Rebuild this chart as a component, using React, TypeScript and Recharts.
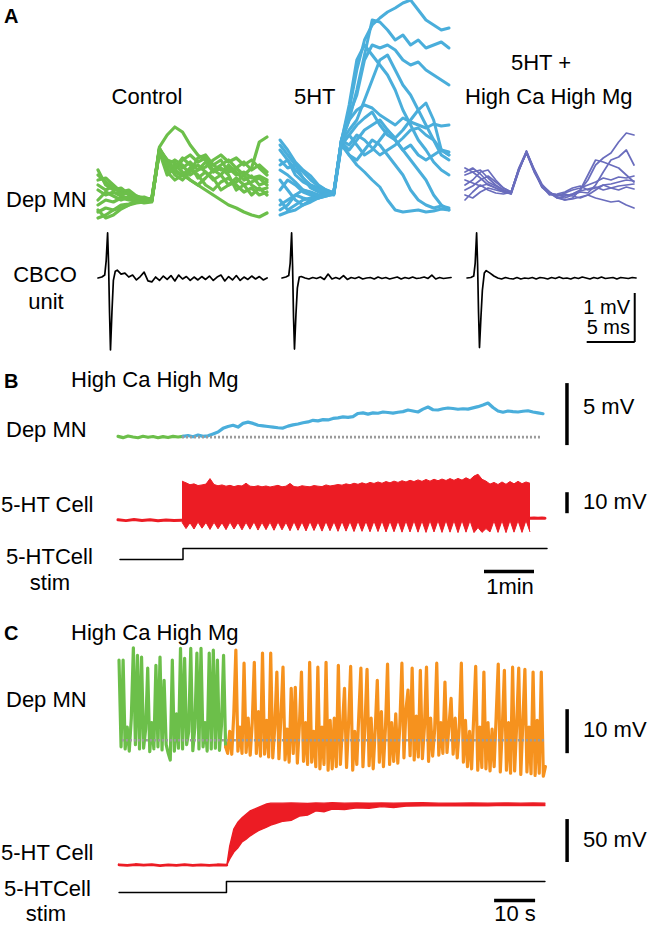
import React from 'react';
import { ComposedChart, Line, Area, XAxis, YAxis, ReferenceLine } from 'recharts';

// ---------------- Panel A : Dep MN sweeps (mV, relative to the pre-EPSP trough), one sample / 0.8 ms ----------------
const sweepStepMs = 0.8;

const controlSweeps: number[][] = [
  [-0.5, 0, -0.2, 0.2, 0, -0.1, 0.1, -0.1, 5, 4, 3, 2.5, 2, 1.5, 1, 0.5, 0, -0.5, -0.8, -1.2, -1.5, -1.7, -1.3],
  [2.5, 1.8, 1.2, 1, 0.5, 0.2, 0.1, 0, 5.3, 6.5, 7.3, 6.8, 5.5, 4.5, 4, 3.5, 3, 3.2, 2.5, 2.8, 2.2, 2.4, 2],
  [1, 0.5, 0.8, 0.4, 0.2, 0.3, 0, 0.1, 5.1, 3.5, 3, 4, 4.5, 3.8, 4.2, 3, 2.5, 3.5, 2.8, 2, 2.4, 1.5, 1.8],
  [-1.2, -0.8, -1, -0.5, -0.4, -0.2, -0.1, 0, 5, 3, 2.8, 2.4, 3, 3.5, 2.8, 2, 2.5, 1.5, 1.8, 2.5, 3.2, 5.8, 6.3],
  [2, 2.2, 1.5, 0.8, 1, 0.4, 0.2, -0.1, 5.2, 3.8, 2.5, 2, 2.8, 4.2, 4.5, 3.5, 4, 2.8, 3.2, 3.8, 3, 3.5, 2.8],
  [-1.8, -1.5, -1, -0.8, -0.5, -0.3, -0.2, 0, 4.9, 3.2, 3.5, 2.8, 2, 1.5, 2.2, 3, 3.5, 4, 3.2, 2.5, 1.5, 1, 1.2],
  [3, 1.5, 1, 1.2, 0.6, 0.4, 0, 0.2, 5, 2.8, 2, 2.5, 3.2, 2.5, 1.5, 1, 1.8, 2.2, 1.5, 0.8, 1.2, 0.5, 0.8],
  [0, 0.8, 0.4, 0, 0.3, 0.1, 0.2, -0.1, 5.1, 4, 3.7, 3.2, 3.8, 3, 3.3, 4, 4.5, 3.8, 4.2, 3.5, 4, 3.2, 2.5],
  [1.5, 1, 1.4, 0.5, 0.8, 0.2, 0.3, 0, 4.8, 2.5, 3.2, 4.2, 3.5, 2.2, 2.8, 2.2, 1, 1.5, 2.2, 1.5, 1.8, 2.2, 1.5],
  [-1, -1.8, -1.5, -0.9, -0.5, -0.1, -0.3, -0.2, 5, 3.5, 4, 3.5, 2.5, 3, 3.8, 2.8, 3.2, 2.5, 1, 1.5, 0.5, 1.2, 0.5],
];

const serotoninSweeps: number[][] = [
  [5, 4, 3, 2.2, 1.5, 1.2, 0.8, 0.6, 6, 9, 13, 16, 17.5, 18.2, 18.8, 19.2, 19.7, 20, 19, 18, 17.5, 17, 17.2],
  [5.5, 4.5, 3.5, 2.8, 2, 1.4, 1, 0.7, 5.8, 8, 11, 14.5, 18, 17.8, 17, 16, 16.5, 15.5, 16, 15.2, 15.5, 15.8, 15.2],
  [0, -1, -0.5, 0, 0.2, 0.4, 0.6, 0.7, 6, 8.5, 10.5, 14, 15.5, 15.2, 15.5, 15, 14, 13.5, 13.8, 13, 12.5, 12, 11.5],
  [-1.5, -1.2, -1, -0.5, 0, 0.2, 0.5, 0.6, 5.9, 9.5, 14, 15.5, 14.5, 13.5, 12.5, 11, 9, 7.5, 6, 5, 3.8, 3, 2.5],
  [3, 2.5, 1.8, 1, 0.8, 0.5, 0.7, 0.8, 6, 8, 9, 9.5, 9.2, 8.5, 8, 7.5, 8.2, 7.8, 7.5, 7.2, 7.6, 7.4, 7.5],
  [4, 3.2, 3.5, 2.2, 1.2, 0.8, 0.6, 0.5, 5.5, 6.5, 7.5, 8.2, 8.8, 7.5, 6.5, 6, 5, 4, 3, 2, 0.5, -0.5, -1],
  [1, 2, 1.5, 0.8, 0.5, 0.2, 0.4, 0.6, 5.8, 5, 6, 7, 7.5, 8, 7, 6.2, 7, 8, 9, 9.7, 8, 5, 4.5],
  [6, 5, 3.8, 3, 2.4, 1.5, 1, 0.7, 5.5, 4.5, 4, 5, 6, 5.5, 4.5, 3.5, 2.5, 1, 0, -0.5, -0.8, -0.6, -0.8],
  [-0.5, 0, 0.5, 0.2, 0, 0.3, 0.5, 0.7, 6, 5.5, 6.5, 6, 5.2, 4.5, 5, 5.5, 6.2, 7, 7.2, 6.5, 6, 5, 4.5],
  [2, 1, 0, -0.5, -0.2, 0.2, 0.4, 0.6, 5.7, 4.5, 3.5, 2.8, 2, 1.3, 0, -1, -1.2, -1.1, -1, -1.2, -1.1, -0.9, -1],
  [3.5, 4, 2.5, 1.8, 1.4, 1, 0.8, 0.7, 5.9, 7, 8, 10, 12, 14, 14.5, 13, 11.5, 10.5, 9, 7.5, 6, 4.5, 4],
  [-1, -0.5, 0.5, 1, 0.7, 0.4, 0.6, 0.8, 5.6, 6.5, 5.5, 4.5, 5, 6, 7, 6, 5, 5.5, 4.5, 4, 4.5, 5, 4.8],
];

const highCaMgSweeps: number[][] = [
  [2.5, 2.8, 3, 2.2, 1.5, 1, 0.7, 3, 4.8, 3, 1.4, 0.7, 0.5, 0.4, 0.6, 1, 2, 3.5, 4.2, 4.7, 5.8, 6.7, 6.5],
  [1.5, 2, 2.8, 3, 2, 1.2, 0.8, 3.1, 4.7, 2.9, 1.5, 0.8, 0.3, 0.2, 0.5, 0.8, 0.7, 1.5, 2.8, 4, 4.3, 5, 3.5],
  [0.5, 0.2, 0.8, 1.2, 1, 0.8, 0.6, 2.9, 4.8, 3, 1.3, 0.6, 0.4, 0.7, 1, 1.2, 1.5, 1.8, 2.2, 2, 2.3, 2.2, 2.4],
  [3.2, 2.8, 2.2, 1.5, 1.2, 0.9, 0.7, 3.2, 4.9, 3.1, 1.6, 0.7, 0.2, 0, 0.1, 0.3, 0.5, 0.2, 0, -0.2, -0.1, -0.5, -0.8],
  [0, 0.8, 1.5, 1, 0.7, 0.6, 0.8, 3, 4.7, 2.8, 1.4, 0.5, 0.6, 0.8, 1.2, 1.4, 1, 1.2, 1.5, 1.6, 1.8, 2, 1.9],
  [2, 1.7, 1.4, 1.6, 1.2, 0.8, 0.7, 3.1, 4.8, 3, 1.5, 0.8, 0.2, 0.4, 0.6, 0.9, 1.1, 1.3, 1, 1.2, 1.4, 1.5, 1.6],
  [2.8, 3.2, 2.6, 1.8, 1.4, 1, 0.6, 2.9, 4.9, 2.9, 1.3, 0.7, 0.3, 0, 0.2, 1, 2.5, 4, 3.8, 3.5, 3.2, 2.5, 1.8],
  [1, 1.4, 2, 2.4, 1.8, 1.2, 0.8, 3, 4.7, 3, 1.4, 0.7, 0.5, 0.6, 0.4, 0.2, 0.5, 1, 1.5, 1.2, 1, 1.3, 1.1],
];

// ---------------- Panel A : CBCO unit (mV) ----------------
const cbcoTimesMs = [0, 0.4, 0.7, 0.85, 1.0, 1.1, 1.2, 1.3, 1.45, 1.6, 1.8, 2.0,
  2.4, 2.8, 3.2, 3.6, 4.0, 4.4, 4.8, 5.2, 5.6, 6.0, 6.4, 6.8, 7.2, 7.6, 8.0, 8.4, 8.8, 9.2, 9.6, 10.0,
  10.4, 10.8, 11.2, 11.6, 12.0, 12.4, 12.8, 13.2, 13.6, 14.0, 14.4, 14.8, 15.2, 15.6, 16.0, 16.4, 16.8, 17.2, 17.6];
const cbcoControl = [0, 0.02, 0.06, 0.35, 0.92, 0.3, -0.7, -1.47, -0.7, -0.05, 0.14, 0.16,
  0.08, 0.1, 0.02, 0.06, -0.04, 0.03, 0.12, -0.06, -0.08, 0.02, -0.05, 0.04, -0.03, 0.05, -0.06, 0.06, -0.02, 0.03, -0.05, 0.02,
  -0.04, 0.03, -0.03, 0.04, -0.05, 0.02, 0.06, -0.06, 0.03, -0.04, 0.05, -0.05, 0.02, -0.03, 0.04, -0.02, 0.03, -0.04, 0.0];
const cbco5HT = [0, 0.02, 0.05, 0.3, 0.92, 0.25, -0.8, -1.45, -0.75, -0.2, 0.02, 0.03,
  0.0, -0.02, 0.01, -0.01, 0.02, -0.03, 0.08, -0.02, 0.01, -0.02, 0.05, -0.03, 0.01, -0.01, 0.02, -0.02, 0.0, 0.01, -0.02, 0.02,
  -0.01, 0.01, -0.02, 0.0, 0.02, -0.02, 0.01, -0.01, 0.02, -0.01, 0.0, 0.02, -0.01, 0.06, -0.02, 0.01, -0.01, 0.0, 0.01];
const cbcoHighCaMg = [0, 0.01, 0.04, 0.3, 0.92, 0.3, -0.7, -1.42, -0.8, -0.25, 0.1, 0.15,
  0.1, 0.04, 0.0, -0.02, 0.01, -0.01, -0.02, 0.01, -0.02, 0.0, -0.01, 0.01, -0.02, 0.01, 0.0, -0.02, 0.01, -0.01, 0.02, -0.01,
  0.0, -0.02, 0.01, -0.01, 0.02, 0.0, -0.02, 0.01, -0.01, 0.02, -0.01, 0.0, 0.01, -0.02, 0.01, 0.0, -0.01, 0.01, 0.0];

// ---------------- Panel B (time in min) ----------------
const depBStepMin = 0.1;
const depBControl = [0.05, -0.05, 0.08, 0.0, -0.06, 0.06, -0.02, 0.04, -0.06, 0.03, -0.04, 0.05, 0.0, 0.05];
const depB5HT = [0.05,
  0.12, 0.02, 0.16, 0.05, 0.1, 0.25, 0.4, 0.7, 0.85, 0.95,
  0.8, 1.1, 1.2, 1.1, 0.95, 0.9, 0.85, 0.8, 0.75, 0.72,
  0.88, 0.98, 1.05, 1.15, 1.22, 1.35, 1.3, 1.4, 1.38, 1.5,
  1.55, 1.62, 1.58, 1.65, 1.9, 1.95, 1.85, 1.95, 1.92, 2.02,
  1.98, 1.93, 2.0, 2.05, 2.18, 2.1, 2.02, 2.25, 2.42, 2.2,
  2.18, 2.28, 2.34, 2.3, 2.24, 2.28, 2.25, 2.35, 2.45, 2.58,
  2.74, 2.38, 2.1, 2.0, 2.1, 2.05, 2.02, 2.08, 2.12, 2.02,
  1.95, 1.88];

const cellBRestTimes = [0, 0.16, 0.32, 0.48, 0.64, 0.8, 0.96, 1.12, 1.28];
const cellBRest = [0.2, -0.2, 0.3, -0.1, 0.2, -0.3, 0.1, -0.2, 0];
const cellBBurstStart = 1.28;
const cellBBurstStep = 0.08;
const cellBBurstLow = [
  -1, -4.0, -1.2, -4.2, -0.9, -3.8, -1.1, -4.4, -1, -4.1, -1.2, -4.5, -0.9, -4.2, -1.1, -4.6, -1, -4.3, -0.8, -4.7,
  -1, -4.5, -0.9, -4.8, -0.8, -4.6, -1, -5, -0.7, -4.8, -0.8, -5.1, -0.6, -4.9, -0.8, -5.2, -0.6, -5, -0.7, -5.3,
  -0.5, -5.2, -0.6, -5.4, -0.4, -5.3, -0.5, -5.5, -0.4, -5.4, -0.3, -5.6, -0.4, -5.5, -0.3, -5.7, -0.3, -5.6, -0.2, -5.7,
  -0.3, -5.8, -0.2, -5.6, -0.2, -5.8, -0.1, -5.7, -0.2, -5.9, -0.1, -5.7, -0.2, -5.9, -3.5, -5.8, -4, -5.6, -0.3, -5.8,
  -0.2, -5.9, -0.1, -5.7, -0.2, -5.8, -0.1, -5.6];
const cellBBurstHigh = [
  18.6, 17.8, 16.9, 17.3, 16.5, 16.8, 17.2, 19.8, 17.0, 16.4, 16.8, 16.2, 16.6, 16.0, 16.5, 16.3, 17.6, 16.2, 16.0, 16.4,
  15.9, 16.3, 15.8, 16.2, 16.6, 15.9, 16.2, 17.5, 16.0, 15.8, 16.4, 16.1, 15.9, 16.5, 16.2, 16.0, 16.8, 16.3, 16.6, 17.0,
  16.7, 17.3, 16.9, 17.6, 17.1, 17.8, 17.2, 18.0, 17.5, 18.2, 17.6, 18.4, 17.8, 18.6, 18.0, 18.8, 18.2, 19.0, 18.4, 19.2,
  18.5, 19.4, 18.6, 19.5, 18.8, 19.6, 18.9, 19.8, 19.0, 19.9, 19.1, 20.2, 19.3, 21.0, 21.9, 19.5, 18.6, 17.2, 18.0, 17.0,
  18.2, 17.1, 18.4, 17.3, 18.5, 17.4, 18.2, 17.6];
const cellBAfterTimes = [8.24, 8.32, 8.4, 8.48, 8.54];
const cellBAfter = [0.9, 1.1, 0.9, 1.0, 0.95];

const stimBTimes = [0.04, 1.3, 8.58];
const stimBLevels = [0, 1, 1];

// ---------------- Panel C (time in s) ----------------
const depCStepS = 0.5;
const depCControl = [
  18.2, -1.5, 18.2, -2.0, 3.0, -2.5, 5.0, 21.0, -1.0, 19.3,
  -2.0, 18.9, -1.8, 2.5, 16.4, -2.6, 4.0, -2.0, 17.0, -1.5,
  18.9, -2.2, 13.6, -1.0, -3.0, -4.5, 18.2, -2.5, 6.0, -1.8,
  20.9, -2.0, 18.6, -1.0, 2.0, 20.9, -2.4, 3.0, 19.8, -2.0,
  20.9, -1.5, 4.0, -2.5, 19.8, -2.0, 20.5, -1.8, 18.2, -2.3,
  3.5, 19.3, -1.5];
const depC5HT = [
  -1.5, -3.0, 2.0, -3.2, 6.0, 20.5, -2.5, 3.0, -3.0, 17.5,
  -2.8, 5.0, -3.4, 4.0, 17.7, -3.0, 6.5, -3.6, 19.8, -3.2,
  4.5, -3.8, 19.8, -4.0, 3.0, 15.5, -4.2, 5.5, 16.6, -4.5,
  2.5, -5.0, 11.8, -3.0, 12.0, -5.2, 3.5, 15.5, -4.8, 4.0,
  -5.5, 17.7, -5.0, 2.0, -6.0, 16.6, -6.5, 3.0, -5.5, 17.7,
  -6.8, 4.5, -6.5, 5.0, -6.0, 17.0, -5.5, 3.0, 11.8, -6.2,
  4.0, 16.8, -6.8, 2.0, -5.5, 6.0, 16.4, -6.0, 3.5, 16.1,
  -5.8, 5.0, -6.5, 2.5, 13.6, -5.0, 6.5, -6.0, 3.0, 17.3,
  -5.5, 4.0, -4.8, 6.0, -5.2, 3.5, 17.5, -4.0, 7.0, 11.4,
  -3.5, 16.4, -4.5, 5.5, -3.8, 15.9, -4.2, 3.0, 16.6, -4.8,
  5.0, -3.6, 2.5, 17.5, -3.4, 4.0, -3.0, 13.2, -2.8, 3.5,
  9.5, -3.2, 5.0, -4.0, 3.0, 17.5, -5.0, 4.5, -6.0, 2.0,
  -6.5, 5.0, 16.8, -6.8, 3.0, -6.2, 15.5, -6.5, 4.0, -7.0,
  2.5, -6.0, 5.5, 17.3, -7.2, 3.0, 15.9, -6.8, 4.0, -7.5,
  16.6, -7.0, 3.5, 16.4, -7.8, 4.0, 16.1, -7.2, 3.0, -7.6,
  15.5, -8.0, 4.5, -7.5, 15.5, -8.2, -6.0];

const cellCRestTimes = [0, 2, 4, 6, 8, 10, 12, 14, 16, 18, 20, 22, 24, 26.3];
const cellCRest = [0.3, -0.5, 0.6, -0.2, 0.4, -0.6, 0.2, -0.4, 0.5, -0.3, 0.2, -0.5, 0.3, 0];
const cellCBurstTimes = [26.3, 27, 28, 29, 30, 31, 32, 33, 34, 35, 36, 37, 38, 40, 42, 44, 46, 48, 50, 52,
  55, 58, 61, 64, 67, 70, 74, 78, 82, 86, 90, 94, 98, 101, 104];
const cellCBurstHigh = [0, 22, 42, 50, 55, 59, 63, 65, 67, 69, 71, 72, 72, 72, 72.3, 72, 71.8, 72.2, 72, 72.4,
  72, 72.2, 71.9, 72.3, 72, 72.1, 72.4, 72, 71.9, 72.3, 72, 72.2, 72, 72.3, 72];
const cellCBurstLow = [0, 7, 15, 20, 27, 30, 34, 37, 40, 42, 44, 46.5, 48, 51, 52, 57, 58, 63, 62, 65,
  64.5, 66.5, 66, 68, 67, 68.5, 68.8, 69.2, 68.8, 69.3, 69, 69.4, 69.1, 69.5, 69.2];

const stimCTimes = [0, 26.2, 103.9];
const stimCLevels = [0, 1, 1];

// ---------------- build tables ----------------
const sweepRows = (sweeps: number[][]) =>
  sweeps[0].map((_, i) => {
    const r: any = { t: i * sweepStepMs };
    sweeps.forEach((s, k) => { r['s' + k] = s[i]; });
    return r;
  });
const controlRows = sweepRows(controlSweeps);
const serotoninRows = sweepRows(serotoninSweeps);
const highCaMgRows = sweepRows(highCaMgSweeps);
const cbcoRows = (vals: number[]) => cbcoTimesMs.map((t, i) => ({ t, v: vals[i] }));

const depBRows = Array.from({ length: depBControl.length + depB5HT.length - 1 }, (_, i) => ({
  t: i * depBStepMin,
  c: i < depBControl.length ? depBControl[i] : undefined,
  s: i >= depBControl.length - 1 ? depB5HT[i - depBControl.length + 1] : undefined,
}));
const cellBRows: any[] = [
  ...cellBRestTimes.map((t, i) => ({ t, rest: cellBRest[i] })),
  ...cellBBurstLow.map((lo, i) => ({ t: cellBBurstStart + i * cellBBurstStep, burst: [lo, cellBBurstHigh[i]] })),
  ...cellBAfterTimes.map((t, i) => ({ t, rest: cellBAfter[i] })),
];
const stimBRows = stimBTimes.map((t, i) => ({ t, v: stimBLevels[i] }));

const depCRows = Array.from({ length: depCControl.length + depC5HT.length - 1 }, (_, i) => ({
  t: i * depCStepS,
  c: i < depCControl.length ? depCControl[i] : undefined,
  s: i >= depCControl.length - 1 ? depC5HT[i - depCControl.length + 1] : undefined,
}));
const cellCRows: any[] = [
  ...cellCRestTimes.map((t, i) => ({ t, rest: cellCRest[i] })),
  ...cellCBurstTimes.map((t, i) => ({ t, burst: [cellCBurstLow[i], cellCBurstHigh[i]] })),
];
const stimCRows = stimCTimes.map((t, i) => ({ t, v: stimCLevels[i] }));

// ---------------- styling ----------------
const FONT = '"Liberation Sans", Arial, Helvetica, sans-serif';
const GREEN = '#6cbf4a';
const BLUE = '#4aaedb';
const PURPLE = '#6a6dbd';
const ORANGE = '#f6921e';
const RED = '#ec1c24';
const GRAY = '#9b9b9b';
const INK = '#000';
const PAD = 6;

type PlotProps = {
  left: number; top: number; width: number; height: number;
  x: [number, number]; y: [number, number]; data: any[]; children: React.ReactNode;
};
function Plot({ left, top, width, height, x, y, data, children }: PlotProps) {
  return (
    <div style={{ position: 'absolute', left: left - PAD, top: top - PAD }}>
      <ComposedChart width={width + 2 * PAD} height={height + 2 * PAD} data={data}
        margin={{ top: PAD, right: PAD, bottom: PAD, left: PAD }}>
        <XAxis dataKey="t" type="number" domain={x} hide />
        <YAxis type="number" domain={y} hide />
        {children}
      </ComposedChart>
    </div>
  );
}

const trace = (key: string, color: string, w: number, type: any = 'linear') => (
  <Line key={key} dataKey={key} stroke={color} strokeWidth={w} dot={false} activeDot={false}
    isAnimationActive={false} type={type} strokeLinejoin="round" strokeLinecap="round" />
);

function Label({ x, y, text, align = 'left', size = 22, bold = false }:
  { x: number; y: number; text: string; align?: 'left' | 'center' | 'right'; size?: number; bold?: boolean }) {
  const tx = align === 'left' ? '0' : align === 'center' ? '-50%' : '-100%';
  return (
    <div style={{
      position: 'absolute', left: x, top: y, transform: `translate(${tx}, -50%)`,
      fontSize: size, fontWeight: bold ? 700 : 400, lineHeight: 1, whiteSpace: 'nowrap', color: INK,
    }}>{text}</div>
  );
}

const bar = (p1: { x: number; y: number }, p2: { x: number; y: number }, w = 3.5) => (
  <ReferenceLine segment={[p1, p2]} stroke={INK} strokeWidth={w} ifOverflow="visible" />
);

export default function App() {
  const aX: [number, number] = [0, 17.6];
  const aY: [number, number] = [-2.5, 20];
  const cbX: [number, number] = [0, 17.8];
  const cbY: [number, number] = [-1.6, 1.0];
  return (
    <div style={{ position: 'absolute', left: 0, top: 0, width: 648, height: 927, background: '#fff', overflow: 'hidden', fontFamily: FONT }}>
      {/* ---------- A ---------- */}
      <Label x={4} y={16} text="A" size={20} bold />
      <Label x={147} y={97} text="Control" align="center" />
      <Label x={294} y={97} text="5HT" />
      <Label x={541} y={63} text="5HT +" align="center" />
      <Label x={465} y={97} text="High Ca High Mg" />
      <Label x={6} y={200} text="Dep MN" />
      <Label x={45} y={275} text="CBCO" align="center" />
      <Label x={46} y={302} text="unit" align="center" />
      <Label x={630} y={307} text="1 mV" align="right" size={20} />
      <Label x={630} y={327} text="5 ms" align="right" size={20} />

      <Plot left={98} top={0} width={169} height={225} x={aX} y={aY} data={controlRows}>
        {controlSweeps.map((_, k) => trace('s' + k, GREEN, 3.2))}
      </Plot>
      <Plot left={280} top={0} width={169} height={225} x={aX} y={aY} data={serotoninRows}>
        {serotoninSweeps.map((_, k) => trace('s' + k, BLUE, 3))}
      </Plot>
      <Plot left={465} top={0} width={169} height={225} x={aX} y={aY} data={highCaMgRows}>
        {highCaMgSweeps.map((_, k) => trace('s' + k, PURPLE, 1.7))}
      </Plot>

      <Plot left={98.4} top={229} width={171} height={127.4} x={cbX} y={cbY} data={cbcoRows(cbcoControl)}>
        {trace('v', INK, 1.7)}
      </Plot>
      <Plot left={282.4} top={229} width={171} height={127.4} x={cbX} y={cbY} data={cbcoRows(cbco5HT)}>
        {trace('v', INK, 1.7)}
      </Plot>
      <Plot left={467.4} top={229} width={171} height={127.4} x={cbX} y={cbY} data={cbcoRows(cbcoHighCaMg)}>
        {trace('v', INK, 1.7)}
        {bar({ x: 17.46, y: -1.306 }, { x: 17.46, y: -0.306 }, 2)}
        {bar({ x: 12.46, y: -1.306 }, { x: 17.46, y: -1.306 }, 2)}
      </Plot>

      {/* ---------- B ---------- */}
      <Label x={4} y={381} text="B" size={20} bold />
      <Label x={71} y={380} text="High Ca High Mg" />
      <Label x={6} y={430} text="Dep MN" />
      <Label x={583} y={407} text="5 mV" />
      <Label x={1} y={505} text="5-HT Cell" />
      <Label x={583} y={502} text="10 mV" />
      <Label x={6} y={557} text="5-HTCell" />
      <Label x={50} y={583} text="stim" align="center" />
      <Label x={510} y={587} text="1min" align="center" />

      <Plot left={118} top={380} width={452} height={70.06} x={[0, 9.04]} y={[-1.05, 4.6]} data={depBRows}>
        {trace('c', GREEN, 3.2)}
        {trace('s', BLUE, 3.2)}
        <ReferenceLine segment={[{ x: 1.28, y: 0 }, { x: 8.46, y: 0 }]} stroke={GRAY} strokeWidth={2.8} strokeDasharray="2 2" />
        {bar({ x: 8.98, y: -0.65 }, { x: 8.98, y: 4.35 })}
      </Plot>

      <Plot left={118} top={473.8} width={452} height={63} x={[0, 9.04]} y={[-8, 22]} data={cellBRows}>
        <Area dataKey="burst" stroke={RED} strokeWidth={1} fill={RED} fillOpacity={1} type="linear"
          dot={false} activeDot={false} isAnimationActive={false} />
        {trace('rest', RED, 3)}
        {bar({ x: 8.98, y: 3.33 }, { x: 8.98, y: 13.33 })}
      </Plot>

      <Plot left={118} top={542.5} width={452} height={33} x={[0, 9.04]} y={[-1.5, 1.5]} data={stimBRows}>
        {trace('v', INK, 1.5, 'stepAfter')}
        {bar({ x: 7.32, y: -1.09 }, { x: 8.32, y: -1.09 })}
      </Plot>

      {/* ---------- C ---------- */}
      <Label x={4} y={633} text="C" size={20} bold />
      <Label x={71} y={633} text="High Ca High Mg" />
      <Label x={6} y={700} text="Dep MN" />
      <Label x={583} y={730} text="10 mV" />
      <Label x={1} y={853} text="5-HT Cell" />
      <Label x={583} y={840} text="50 mV" />
      <Label x={4} y={889} text="5-HTCell" />
      <Label x={46} y={914} text="stim" align="center" />
      <Label x={515} y={914} text="10 s" align="center" />

      <Plot left={119} top={638.8} width={451} height={147.4} x={[0, 110]} y={[-10.5, 23]} data={depCRows}>
        {trace('c', GREEN, 3.2)}
        {trace('s', ORANGE, 3.2)}
        <ReferenceLine segment={[{ x: 0.7, y: 0 }, { x: 103.9, y: 0 }]} stroke={GRAY} strokeWidth={2.6} strokeDasharray="2 2" />
        {bar({ x: 109.3, y: -2.95 }, { x: 109.3, y: 7.05 })}
      </Plot>

      <Plot left={119} top={797.9} width={451} height={72.2} x={[0, 110]} y={[-6, 78]} data={cellCRows}>
        <Area dataKey="burst" stroke={RED} strokeWidth={1.4} fill={RED} fillOpacity={1} type="linear"
          dot={false} activeDot={false} isAnimationActive={false} />
        {trace('rest', RED, 2.8)}
        {bar({ x: 109.3, y: 3.5 }, { x: 109.3, y: 53.5 })}
      </Plot>

      <Plot left={119} top={875.5} width={451} height={29.7} x={[0, 110]} y={[-1.2, 1.5]} data={stimCRows}>
        {trace('v', INK, 1.5, 'stepAfter')}
        {bar({ x: 91.5, y: -0.727 }, { x: 101.5, y: -0.727 })}
      </Plot>
    </div>
  );
}
